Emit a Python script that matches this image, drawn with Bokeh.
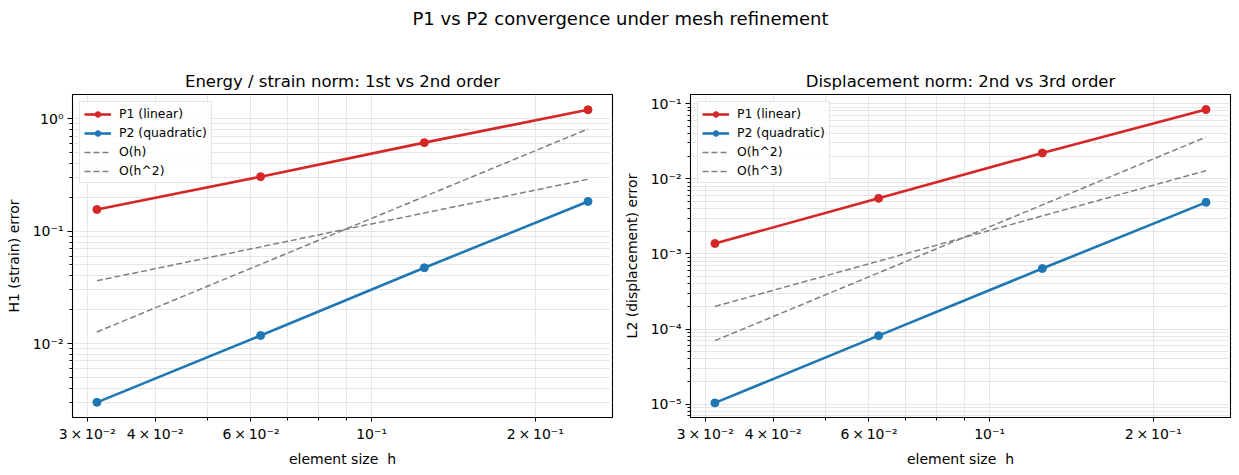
from bokeh.plotting import figure
from bokeh.models import FixedTicker, Legend, LegendItem, Range1d, Label
from bokeh.layouts import column, row
from bokeh.embed import file_html
from bokeh.resources import INLINE

# ---------------- data ----------------
h = [0.03125, 0.0625, 0.125, 0.25]

h1_p1 = [0.1557, 0.305, 0.612, 1.20]
h1_p2 = [0.00300, 0.01178, 0.0472, 0.1836]
h1_ref_h = [0.0362, 0.0724, 0.145, 0.289]
h1_ref_h2 = [0.01267, 0.0507, 0.2027, 0.811]

l2_p1 = [1.376e-3, 5.48e-3, 0.0220, 0.0832]
l2_p2 = [1.04e-5, 8.16e-5, 6.38e-4, 4.85e-3]
l2_ref_h2 = [2.0e-4, 8.0e-4, 3.2e-3, 0.0128]
l2_ref_h3 = [7.0e-5, 5.6e-4, 4.48e-3, 0.0358]

x_ticks = [0.03, 0.04, 0.06, 0.1, 0.2]
x_tick_labels = ["3\u2009×\u200910⁻²", "4\u2009×\u200910⁻²", "6\u2009×\u200910⁻²", "10⁻¹", "2\u2009×\u200910⁻¹"]
x_minor = [0.05, 0.07, 0.08, 0.09]

left_y_ticks = [0.01, 0.1, 1.0]
left_y_labels = ["10⁻²", "10⁻¹", "10⁰"]
right_y_ticks = [1e-5, 1e-4, 1e-3, 1e-2, 1e-1]
right_y_labels = ["10⁻⁵", "10⁻⁴", "10⁻³", "10⁻²", "10⁻¹"]

FONT = "DejaVu Sans"
RED = "#d62728"
BLUE = "#1f77b4"
GRAY = "#808080"
GRID = "#e3e3e3"


def minor_for(lo_exp, hi_exp, lo, hi):
    out = []
    for e in range(lo_exp, hi_exp + 1):
        for m in range(2, 10):
            v = m * 10.0 ** e
            if lo < v < hi:
                out.append(v)
    return out


def make_panel(title, ylabel, p1, p2, r1, r2, r1_label, r2_label,
               y_ticks, y_labels, y_lo, y_hi, min_left, min_right):
    p = figure(x_axis_type="log", y_axis_type="log",
               frame_width=540, frame_height=323,
               min_border_left=min_left, min_border_right=min_right,
               min_border_top=54, min_border_bottom=58,
               x_range=Range1d(0.02818, 0.2773),
               y_range=Range1d(y_lo, y_hi),
               output_backend="svg", toolbar_location=None,
               title=title)
    p.title.text_font = FONT
    p.title.text_font_size = "16.5px"
    p.title.text_font_style = "normal"
    p.title.align = "center"
    p.title.standoff = 7
    p.title.text_color = "#000000"

    p.outline_line_color = "#000000"
    p.outline_line_width = 1.1
    p.background_fill_color = "white"
    p.border_fill_color = "white"

    ymin = minor_for(-6, 1, y_lo, y_hi)
    p.xaxis.ticker = FixedTicker(ticks=x_ticks, minor_ticks=x_minor)
    p.xaxis.major_label_overrides = {t: l for t, l in zip(x_ticks, x_tick_labels)}
    p.yaxis.ticker = FixedTicker(ticks=y_ticks, minor_ticks=ymin)
    p.yaxis.major_label_overrides = {t: l for t, l in zip(y_ticks, y_labels)}

    for ax in (p.xaxis[0], p.yaxis[0]):
        ax.axis_line_color = None
        ax.major_tick_line_color = "#000000"
        ax.minor_tick_line_color = "#000000"
        ax.major_tick_in = 0
        ax.minor_tick_in = 0
        ax.major_label_text_font = FONT
        ax.major_label_text_font_size = "14px"
        ax.major_label_text_color = "#000000"
        ax.axis_label_text_font = FONT
        ax.axis_label_text_font_size = "14px"
        ax.axis_label_text_font_style = "normal"
        ax.axis_label_text_color = "#000000"
    p.xaxis.major_tick_out = 4
    p.xaxis.minor_tick_out = 3
    p.yaxis.major_tick_out = 5
    p.yaxis.minor_tick_out = 3
    p.xaxis.major_label_standoff = 4
    p.yaxis.major_label_standoff = 4
    p.xaxis.axis_label = "element size\u00a0 h"
    p.yaxis.axis_label = ylabel
    p.xaxis.axis_label_standoff = 6
    p.yaxis.axis_label_standoff = 8

    for g in (p.xgrid[0], p.ygrid[0]):
        g.grid_line_color = GRID
        g.grid_line_width = 0.9
        g.minor_grid_line_color = GRID
        g.minor_grid_line_width = 0.9

    g1 = p.line(h, r1, line_color=GRAY, line_width=1.5, line_dash="6 3")
    g2 = p.line(h, r2, line_color=GRAY, line_width=1.5, line_dash="6 3")
    l1 = p.line(h, p1, line_color=RED, line_width=2.6)
    s1 = p.scatter(h, p1, size=8, fill_color=RED, line_color=RED)
    l2 = p.line(h, p2, line_color=BLUE, line_width=2.6)
    s2 = p.scatter(h, p2, size=8, fill_color=BLUE, line_color=BLUE)

    legend = Legend(items=[
        LegendItem(label="P1 (linear)", renderers=[l1, s1]),
        LegendItem(label="P2 (quadratic)", renderers=[l2, s2]),
        LegendItem(label=r1_label, renderers=[g1]),
        LegendItem(label=r2_label, renderers=[g2]),
    ], location="top_left")
    legend.label_text_font = FONT
    legend.label_text_font_size = "12.4px"
    legend.label_text_color = "#000000"
    legend.border_line_color = "#cccccc"
    legend.border_line_width = 1
    legend.background_fill_alpha = 0.85
    legend.glyph_width = 27
    legend.glyph_height = 14
    legend.label_height = 14
    legend.spacing = 4
    legend.padding = 4
    legend.margin = 7
    legend.label_standoff = 8
    p.add_layout(legend)
    return p


left = make_panel("Energy / strain norm: 1st vs 2nd order", "H1 (strain) error",
                  h1_p1, h1_p2, h1_ref_h, h1_ref_h2, "O(h)", "O(h^2)",
                  left_y_ticks, left_y_labels, 0.0022, 1.64, 72, 8)
right = make_panel("Displacement norm: 2nd vs 3rd order", "L2 (displacement) error",
                   l2_p1, l2_p2, l2_ref_h2, l2_ref_h3, "O(h^2)", "O(h^3)",
                   right_y_ticks, right_y_labels, 6.65e-6, 0.132, 70, 9)

top = figure(width=1239, height=40, x_range=Range1d(0, 1239), y_range=Range1d(0, 40),
             output_backend="svg", toolbar_location=None, min_border=0)
top.axis.visible = False
top.grid.visible = False
top.outline_line_color = None
top.add_layout(Label(x=620, y=22, text="P1 vs P2 convergence under mesh refinement",
                     text_font=FONT, text_font_size="18px", text_align="center",
                     text_baseline="middle", text_color="#000000"))

layout = column(top, row(left, right, spacing=0), spacing=0)
open("out.html", "w").write(file_html(layout, INLINE))
